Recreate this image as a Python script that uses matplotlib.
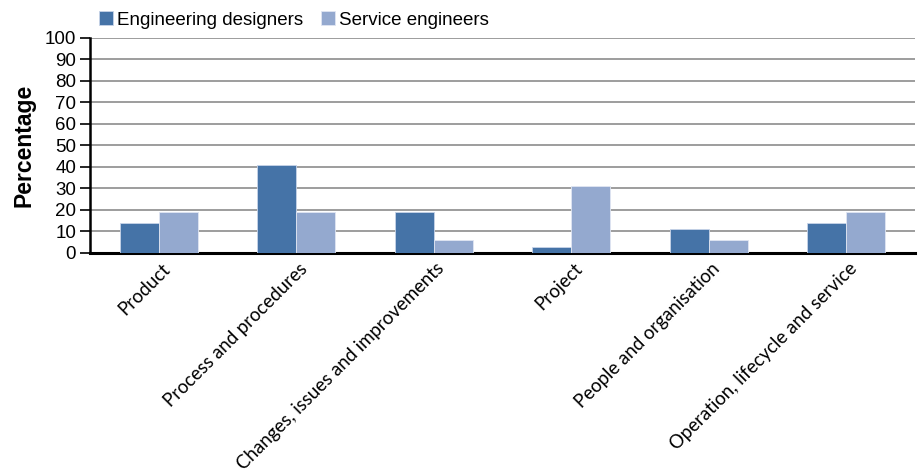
import matplotlib
matplotlib.use("Agg")
import matplotlib.pyplot as plt
import matplotlib.transforms as mtrans
import numpy as np

categories = ["Product", "Process and procedures", "Changes, issues and improvements",
              "Project", "People and organisation", "Operation, lifecycle and service"]
designers = [14, 41, 19, 3, 11, 14]
service = [19, 19, 6, 31, 6, 19]
series_names = ["Engineering designers", "Service engineers"]
yticks = list(range(0, 101, 10))

plt.rcParams['font.family'] = ['Liberation Sans', 'DejaVu Sans']

fig = plt.figure(figsize=(9.19, 4.75), dpi=100)
ax = fig.add_axes([0.098, 0.4674, 0.8976, 0.4526])

x = np.arange(len(categories))
w = 0.285
b1 = ax.bar(x - w/2, designers, w, color='#4573a7', edgecolor='#c8d4e8', linewidth=0.6,
            label=series_names[0], zorder=3)
b2 = ax.bar(x + w/2, service, w, color='#94a9cf', edgecolor='#e0e6f2', linewidth=0.6,
            label=series_names[1], zorder=3)

ax.set_xlim(-0.5, len(categories) - 0.5)
ax.set_ylim(0, 100)
ax.set_yticks(yticks)
ax.yaxis.grid(True, color='#8c8c8c', linewidth=1.2, zorder=0)
ax.set_axisbelow(True)
for s in ['top', 'right']:
    ax.spines[s].set_visible(False)
ax.spines['left'].set_linewidth(1.8)
ax.spines['bottom'].set_linewidth(2.2)
ax.tick_params(axis='y', direction='out', length=7, width=1.2, labelsize=13.5, pad=3)
ax.tick_params(axis='x', length=0, pad=5)
ax.set_xticks(x)
ax.set_xticklabels(categories, rotation=45, ha='right', rotation_mode='anchor',
                   fontsize=13.4, family=['Lato', 'DejaVu Sans'])
offset = mtrans.ScaledTranslation(2/100, 0, fig.dpi_scale_trans)
for lbl in ax.get_xticklabels():
    lbl.set_transform(lbl.get_transform() + offset)

ax.set_ylabel("Percentage", fontsize=16.5, fontweight='bold', labelpad=7)

leg = fig.legend(handles=[b1, b2], loc='center left', bbox_to_anchor=(0.1, 0.958),
                 ncol=2, frameon=False, fontsize=13.5, handlelength=0.75, handleheight=0.75,
                 handletextpad=0.2, columnspacing=0.95, borderaxespad=0)

fig.savefig("out.png", dpi=100)
